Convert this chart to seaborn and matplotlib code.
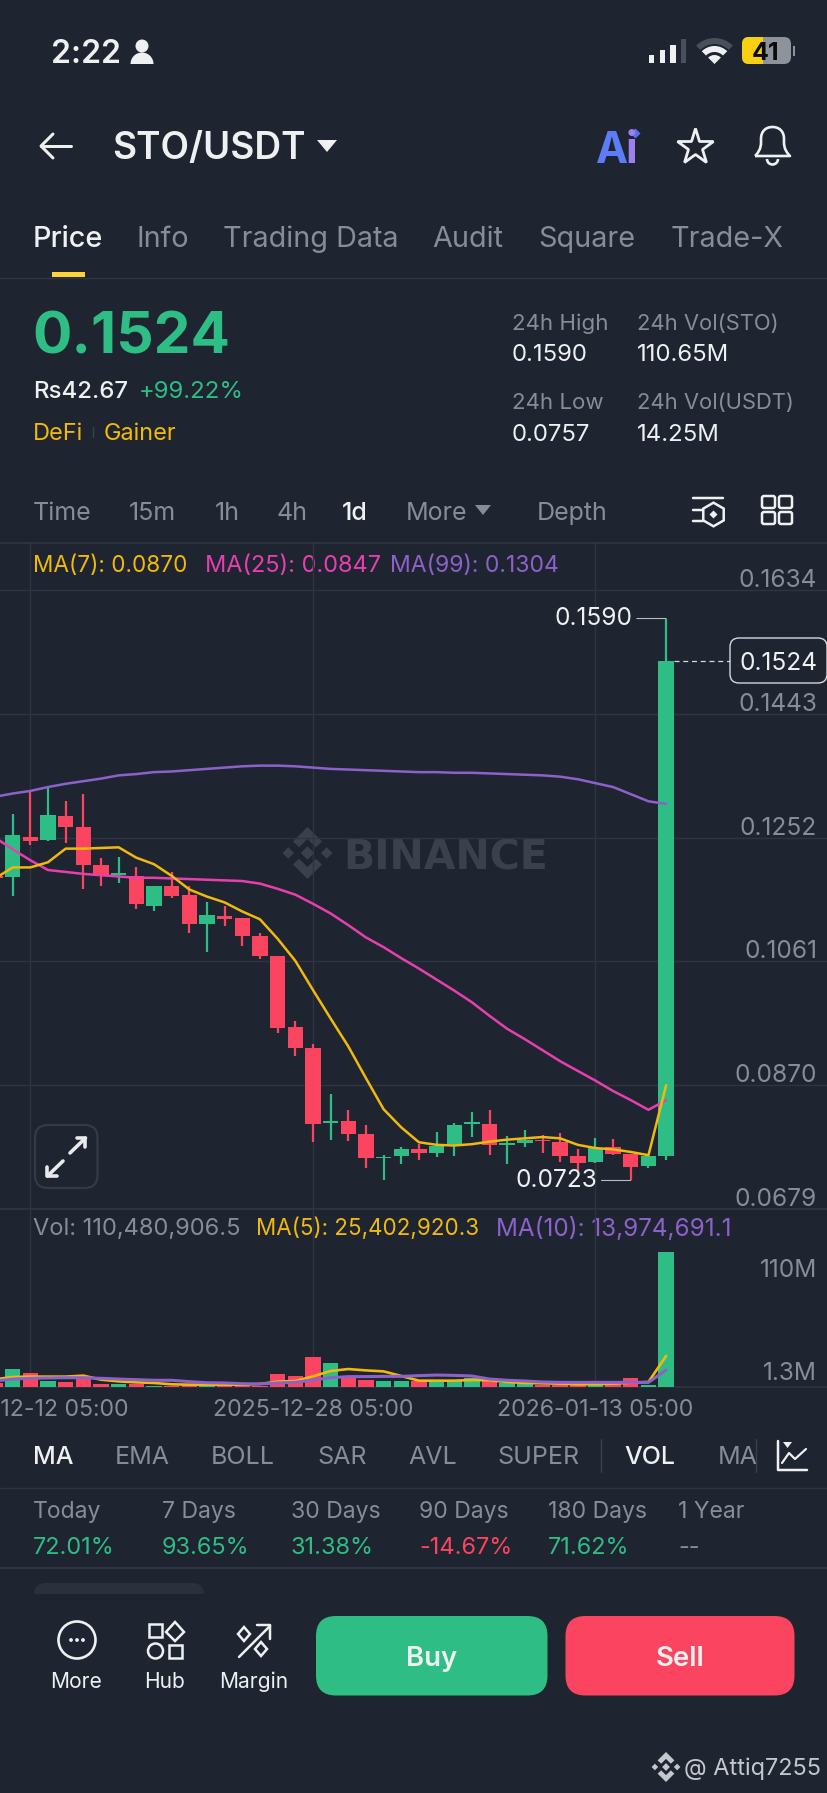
"""
plot.py
STO/USDT daily candles with moving averages and volume, drawn as the phone screen it came from.
"""

import matplotlib
matplotlib.use("Agg")
import matplotlib.pyplot as plt
import seaborn as sns
import numpy as np
import pandas as pd
from matplotlib.patches import Circle, FancyBboxPatch, Polygon, PathPatch, Rectangle, Wedge, Arc
from matplotlib.path import Path
from matplotlib.transforms import ScaledTranslation

BG = "#1E2530"
GRID = "#2E3440"
WHITE = "#EEF0F2"
GRAY = "#858D9B"
GREEN = "#2EBD85"
RED = "#FB4560"
YELLOW = "#F0B90B"
PINK = "#E83FB0"
PURPLE = "#8C62CA"
W, H = 828, 1793

# daily candles, the first one is cut by the left edge of the screen
opens = [.1193, .1191, .1253, .1248, .1286, .1268, .1210, .1194, .1193, .1146, .1178, .1163, .1118,
         .1131, .1128, .1100, .1069, .0960, .0927, .0811, .0815, .0794, .0757, .0760, .0772, .0765,
         .0779, .0810, .0810, .0778, .0781, .0786, .0783, .0761, .0751, .0774, .0764, .0745, .0761]
highs = [.1193, .1288, .1323, .1328, .1309, .1320, .1220, .1222, .1207, .1178, .1199, .1178, .1152,
         .1147, .1128, .1105, .1070, .0969, .0933, .0857, .0832, .0808, .0762, .0774, .0780, .0798,
         .0811, .0828, .0831, .0792, .0801, .0793, .0797, .0771, .0788, .0787, .0764, .0760, .1590]
lows = [.1190, .1162, .1241, .1247, .1244, .1173, .1178, .1182, .1142, .1139, .1159, .1105, .1076,
        .1116, .1084, .1064, .0951, .0915, .0783, .0785, .0784, .0742, .0724, .0748, .0755, .0759,
        .0761, .0790, .0763, .0748, .0775, .0766, .0751, .0737, .0750, .0762, .0723, .0742, .0755]
closes = [.1190, .1256, .1247, .1287, .1269, .1209, .1193, .1197, .1150, .1178, .1162, .1119, .1132,
          .1127, .1100, .1069, .0958, .0927, .0810, .0815, .0794, .0757, .0759, .0771, .0765, .0776,
          .0809, .0813, .0778, .0781, .0785, .0784, .0761, .0750, .0773, .0764, .0744, .0760, .1524]

ma7 = [.1189, .1206, .1206, .1214, .1235, .1235, .1236, .1237, .1221, .1211, .1193, .1172, .1161,
       .1152, .1138, .1126, .1096, .1062, .1017, .0973, .0930, .0881, .0833, .0805, .0782, .0778,
       .0777, .0779, .0783, .0786, .0788, .0790, .0788, .0778, .0773, .0771, .0767, .0762, .0870]
ma25 = [.1252, .1234, .1217, .1202, .1199, .1196, .1194, .1192, .1190, .1190, .1189, .1188, .1187,
        .1186, .1185, .1181, .1173, .1164, .1150, .1135, .1117, .1098, .1083, .1066, .1050, .1033,
        .1016, .0998, .0977, .0957, .0941, .0924, .0907, .0892, .0877, .0861, .0847, .0832, .0847]
ma99 = [.1315, .1320, .1324, .1330, .1335, .1339, .1343, .1348, .1350, .1353, .1354, .1356, .1358,
        .1360, .1362, .1363, .1363, .1362, .1360, .1358, .1357, .1356, .1355, .1354, .1353, .1353,
        .1352, .1352, .1351, .1350, .1349, .1348, .1346, .1342, .1336, .1330, .1319, .1308, .1304]

# volume in millions
volumes = [3.3, 14.5, 11.5, 5.2, 4.4, 7.4, 2.2, 2.2, 2.7, 0.5, 0.8, 1.9, 1.6, 0.5, 1.6, 0.5, 10.4,
           8.7, 24.6, 19.9, 7.6, 5.7, 4.9, 4.6, 4.9, 4.6, 4.6, 7.1, 5.2, 3.0, 3.5, 1.9, 1.9, 2.2,
           1.6, 2.5, 7.1, 1.9, 110.48]
vol_ma5 = [6.3, 8.2, 8.5, 8.5, 8.5, 9.3, 6.0, 4.6, 3.8, 3.3, 2.2, 1.9, 1.9, 1.9, 1.9, 2.5, 4.4, 4.9,
           8.7, 13.1, 14.7, 13.6, 12.8, 9.0, 5.2, 5.2, 5.2, 5.7, 5.5, 4.1, 3.3, 3.0, 2.7, 2.2, 2.2,
           2.7, 3.5, 4.1, 25.40]
vol_ma10 = [4.9, 6.5, 7.1, 7.4, 7.6, 7.6, 7.1, 6.5, 6.0, 5.5, 5.5, 4.4, 3.5, 3.3, 2.7, 2.5, 3.3, 3.8,
            5.7, 7.6, 8.5, 8.5, 8.7, 8.7, 9.3, 9.8, 9.5, 9.0, 6.5, 5.5, 4.9, 4.1, 3.8, 3.8, 3.8, 3.8,
            3.8, 3.8, 13.97]

price_ticks = [0.1634, 0.1443, 0.1252, 0.1061, 0.0870, 0.0679]
vol_ticks = [1.3, 110]
vol_tick_labels = ["1.3M", "110M"]
date_positions = [2, 18, 34]
date_labels = ["2025-12-12 05:00", "2025-12-28 05:00", "2026-01-13 05:00"]

tabs = ["Price", "Info", "Trading Data", "Audit", "Square", "Trade-X"]
tab_x = [33, 137, 223, 432, 538.5, 671]
frames = ["Time", "15m", "1h", "4h", "1d", "More", "Depth"]
frame_x = [33, 129, 215, 277, 342, 406, 537]
indicators = ["MA", "EMA", "BOLL", "SAR", "AVL", "SUPER", "VOL", "MA"]
indicator_x = [33, 115, 211, 317, 408, 497, 624, 718]
periods = ["Today", "7 Days", "30 Days", "90 Days", "180 Days", "1 Year"]
period_values = ["72.01%", "93.65%", "31.38%", "-14.67%", "71.62%", "--"]
period_x = [33, 162, 291, 419, 548, 678]

sns.set_theme(style="dark", rc={"figure.facecolor": BG, "axes.facecolor": "none", "savefig.facecolor": BG})
plt.rcParams["font.family"] = ["Inter", "DejaVu Sans"]

fig = plt.figure(figsize=(W / 100, H / 100), dpi=100)

# screen furniture goes in pixel coordinates on one full-size axes under the chart
ui = fig.add_axes([0, 0, 1, 1], zorder=0)
ui.set_xlim(0, W)
ui.set_ylim(H, 0)
ui.axis("off")


def label(x, cy, s, px, color=WHITE, weight="normal", ha="left", ax=ui, **kw):
    # cy is the middle of the capitals, px the font size in pixels
    return ax.text(x, cy + 0.36 * px, s, fontsize=px * 0.72, color=color, fontweight=weight,
                   ha=ha, va="baseline", **kw)


def stroke(xs, ys, lw=2.5, color=WHITE):
    ui.plot(xs, ys, color=color, lw=lw * 0.72, solid_capstyle="round", solid_joinstyle="round")


def round_box(x0, y0, x1, y1, r, face="none", edge="none", lw=0.0):
    box = FancyBboxPatch((x0, y0), x1 - x0, y1 - y0, boxstyle=f"round,pad=0,rounding_size={r}",
                         fc=face, ec=edge, lw=lw * 0.72)
    ui.add_patch(box)
    return box


def binance_logo(cx, cy, s, color):
    shapes = [
        [(0, -.26), (.26, 0), (0, .26), (-.26, 0)],
        [(-.74, -.22), (-.52, 0), (-.74, .22), (-.96, 0)],
        [(.74, -.22), (.96, 0), (.74, .22), (.52, 0)],
        [(0, -1), (.56, -.44), (.32, -.22), (0, -.54), (-.32, -.22), (-.56, -.44)],
        [(0, 1), (.56, .44), (.32, .22), (0, .54), (-.32, .22), (-.56, .44)],
    ]
    for pts in shapes:
        ui.add_patch(Polygon([(cx + a * s, cy + b * s) for a, b in pts], fc=color, ec="none"))


# status bar
label(51, 51, "2:22", 32, weight="semibold")
ui.add_patch(Circle((142, 46), 6.5, fc=WHITE, ec="none"))
ui.add_patch(Wedge((142, 64), 11.5, 180, 360, fc=WHITE, ec="none"))
for bx, top, col in zip([649, 660, 670.5, 681], [55, 50, 45, 39], [WHITE, WHITE, WHITE, "#4A505B"]):
    ui.add_patch(Rectangle((bx, top), 5.5, 63 - top, fc=col, ec="none"))
ui.add_patch(Wedge((714.5, 64), 26, 225, 315, width=6, fc="#4A505B", ec="none"))
ui.add_patch(Wedge((714.5, 64), 18, 225, 315, width=6, fc=WHITE, ec="none"))
ui.add_patch(Wedge((714.5, 64), 9, 225, 315, fc=WHITE, ec="none"))
round_box(742, 37, 791, 64, 7, face="#8E929A")
charged = round_box(742, 37, 791, 64, 7, face="#F8D012")
charged.set_clip_path(Rectangle((742, 37), 21, 27, transform=ui.transData))
ui.add_patch(Rectangle((793, 46), 2, 10, fc="#8E929A", ec="none"))
label(766, 51, "41", 25, color="#0A0A0A", weight="bold", ha="center")

# header row
stroke([71, 41], [146, 146], 3)
stroke([53, 41, 53], [134, 146, 158], 3)
label(112.5, 146, "STO/USDT", 37, weight="semibold")
ui.add_patch(Polygon([(317, 140), (337, 140), (327, 152)], fc=WHITE, ec="none"))
label(596, 148, "A", 43, color="#5C7DF7", weight="bold")
label(626, 148, "i", 43, color="#9C80EE", weight="bold")
ui.plot([635], [133], marker="D", ms=5, color="#5C6CF0", mec="none")
ui.plot([695.5], [147], marker="*", ms=27, mfc="none", mec=WHITE, mew=2)
bell = Path([(755, 156), (762, 149), (761, 143), (761, 139), (761, 131), (766, 127), (772.5, 127),
             (779, 127), (784, 131), (784, 139), (784, 143), (783, 149), (790, 156), (755, 156)],
            [Path.MOVETO] + [Path.CURVE4] * 12 + [Path.LINETO])
ui.add_patch(PathPatch(bell, fc="none", ec=WHITE, lw=1.9, joinstyle="round"))
ui.add_patch(Arc((772.5, 159), 11, 11, theta1=0, theta2=180, ec=WHITE, lw=1.9))

# tab row
for i, (name, x) in enumerate(zip(tabs, tab_x)):
    label(x, 237, name, 28.8, color=WHITE if i == 0 else GRAY, weight="medium" if i == 0 else "normal")
ui.add_patch(Rectangle((52, 272), 33, 5, fc="#FCD535", ec="none"))
ui.plot([0, W], [277.5, 277.5], color=GRID, lw=1)

# price summary
label(32, 332, "0.1524", 58.5, color=GREEN, weight="bold")
label(33, 389, "Rs42.67", 24, weight="medium")
label(139, 389, "+99.22%", 24, color=GREEN)
label(33, 432, "DeFi", 23.5, color=YELLOW)
ui.plot([93.5, 93.5], [427, 437], color="#3A414E", lw=1)
label(104, 432, "Gainer", 23.5, color=YELLOW)
label(512, 322, "24h High", 22.3, color=GRAY)
label(512, 352, "0.1590", 24)
label(637, 322, "24h Vol(STO)", 22, color=GRAY)
label(637, 352, "110.65M", 24)
label(512, 401, "24h Low", 22.3, color=GRAY)
label(512, 432, "0.0757", 24)
label(637, 401, "24h Vol(USDT)", 22, color=GRAY)
label(637, 432, "14.25M", 24)

# interval row
for name, x in zip(frames, frame_x):
    label(x, 511, name, 25, color=WHITE if name == "1d" else GRAY, weight="medium" if name == "1d" else "normal")
ui.add_patch(Polygon([(475, 505), (491, 505), (483, 515)], fc=GRAY, ec="none"))
stroke([693, 723], [498, 498], 2.5)
stroke([693, 703], [510, 510], 2.5)
stroke([693, 703], [521, 521], 2.5)
ui.plot([713], [514], marker="h", ms=17, mfc="none", mec=WHITE, mew=1.8)
ui.plot([713], [514], marker="D", ms=4, color=WHITE, mec="none")
for gx in [762, 779]:
    for gy in [496, 512]:
        round_box(gx, gy, gx + 13, gy + 12, 2, edge=WHITE, lw=2.5)

# moving average captions
label(33, 564, "MA(7): 0.0870", 22.6, color=YELLOW)
label(205, 564, "MA(25): 0.0847", 23.5, color=PINK)
label(390, 564, "MA(99): 0.1304", 23, color=PURPLE)
label(33, 1227, "Vol: 110,480,906.5", 23.6, color=GRAY)
label(256.5, 1227, "MA(5): 25,402,920.3", 22.4, color=YELLOW)
label(496.5, 1227, "MA(10): 13,974,691.1", 24.2, color=PURPLE)

# watermark and expand button sit under the candles
binance_logo(307.5, 853, 26, "#3A414D")
ui.text(343, 869, "BINANCE", fontsize=41 * 0.72, color="#3A414D", fontweight="bold", family="DejaVu Sans", va="baseline")
round_box(35, 1125, 97.5, 1188, 13, edge="#343A46", lw=2.2)
stroke([70, 85.5], [1153, 1138], 3.6, "#E8EAED")
stroke([77, 85.5, 85.5], [1138, 1138, 1147], 3.6, "#E8EAED")
stroke([63, 47.5], [1161, 1176], 3.6, "#E8EAED")
stroke([47.5, 47.5, 57], [1167, 1176, 1176], 3.6, "#E8EAED")

# current price tag
ui.add_patch(FancyBboxPatch((730, 638), 97, 45, boxstyle="round,pad=0,rounding_size=9", fc=BG, ec="#D5D8DC", lw=1))
label(778.5, 661, "0.1524", 24.5, ha="center")

# indicator row and period table
for i, (name, x) in enumerate(zip(indicators, indicator_x)):
    active = i in (0, 6)
    label(x, 1455, name, 25, color=WHITE if active else GRAY, weight="medium" if active else "normal")
ui.plot([601, 601], [1439, 1472], color="#3A414E", lw=1)
ui.plot([756, 756], [1439, 1472], color="#3A414E", lw=1)
stroke([778, 778, 807], [1441, 1470, 1470], 2.5)
stroke([782, 789, 795, 806], [1463, 1453, 1459, 1449], 2.2)
ui.add_patch(Polygon([(783, 1442), (792, 1442), (787.5, 1448)], fc=WHITE, ec="none"))
ui.plot([0, W], [1488, 1488], color=GRID, lw=1)
for name, val, x in zip(periods, period_values, period_x):
    val_color = GRAY if val == "--" else (RED if val.startswith("-") else GREEN)
    label(x, 1510, name, 23, color=GRAY)
    label(x, 1546, val, 23.5, color=val_color)
ui.plot([0, W], [1568, 1568], color=GRID, lw=1.5)
round_box(34, 1583, 204, 1610, 12, face="#2A303C")
ui.add_patch(Rectangle((0, 1594), W, 199, fc=BG, ec="none"))

# bottom actions
ui.add_patch(Circle((77, 1640), 18.5, fc="none", ec=WHITE, lw=1.9))
for dx in [-6, 0, 6]:
    ui.add_patch(Circle((77 + dx, 1640), 1.9, fc=WHITE, ec="none"))
label(76.5, 1680, "More", 21, ha="center")
ui.add_patch(Rectangle((149, 1624), 13, 13, fc="none", ec=WHITE, lw=1.8))
ui.add_patch(Polygon([(175, 1622), (184, 1632), (175, 1641), (166, 1632)], fc="none", ec=WHITE, lw=1.8))
ui.add_patch(Circle((155.5, 1651), 7.5, fc="none", ec=WHITE, lw=1.8))
ui.add_patch(Rectangle((169, 1645), 13, 13, fc="none", ec=WHITE, lw=1.8))
label(164.7, 1680, "Hub", 21, ha="center")
stroke([239, 270], [1657, 1626], 2.5)
stroke([257, 270, 270], [1625, 1625, 1639], 2.5)
ui.add_patch(Polygon([(244, 1627), (250, 1634), (244, 1641), (238, 1634)], fc="none", ec=WHITE, lw=1.8))
ui.add_patch(Polygon([(261, 1642), (267, 1649), (261, 1656), (255, 1649)], fc="none", ec=WHITE, lw=1.8))
label(253.4, 1680, "Margin", 21, ha="center")
round_box(316, 1616, 547.5, 1695.5, 20, face=GREEN)
label(431.7, 1656, "Buy", 27.5, weight="semibold", ha="center")
round_box(565.5, 1616, 794.5, 1695.5, 20, face=RED)
label(680, 1656, "Sell", 27.5, weight="semibold", ha="center")
binance_logo(666, 1767, 15, "#C4C8CE")
label(684, 1767, "@ Attiq7255", 23.5, color="#C4C8CE")

# chart panels: candle i sits at 12.7 + 17.66 * (i - 1) pixels
x_left = 1 - 12.7 / 17.66
x_right = 1 + (W - 12.7) / 17.66
price_top = 0.0679 + (1209 - 543) * 0.00015428
ax_price = fig.add_axes([0, 1 - 1209 / H, 1, (1209 - 543) / H], zorder=1)
ax_vol = fig.add_axes([0, 1 - 1387 / H, 1, (1387 - 1209) / H], zorder=1)

candles = pd.DataFrame({"idx": np.arange(len(opens)), "open": opens, "high": highs, "low": lows, "close": closes,
                        "volume": volumes})
candles["side"] = np.where(candles["close"] >= candles["open"], "up", "down")
palette = {"up": GREEN, "down": RED}

colors = candles["side"].map(palette)
ax_price.vlines(candles["idx"], candles["low"], candles["high"], colors=colors, lw=1.6, zorder=3)
ax_price.bar(candles["idx"], (candles["close"] - candles["open"]).abs(),
             bottom=candles[["open", "close"]].min(axis=1), width=0.87, color=colors, lw=0, zorder=3)
for values, color in [(ma99, PURPLE), (ma25, PINK), (ma7, YELLOW)]:
    sns.lineplot(x=candles["idx"], y=values, color=color, lw=1.8, ax=ax_price, zorder=4)

ax_price.set_xlim(x_left, x_right)
ax_price.set_ylim(0.0679, price_top)
ax_price.set_xticks(date_positions)
ax_price.set_yticks(price_ticks)
ax_price.set_yticklabels([f"{v:.4f}" for v in price_ticks])
ax_price.yaxis.tick_right()
ax_price.tick_params(axis="x", labelbottom=False, length=0)
ax_price.tick_params(axis="y", length=0, pad=-7.8, labelsize=24.5 * 0.72, labelcolor=GRAY)
down_2px = ScaledTranslation(0, -2 / 100, fig.dpi_scale_trans)
for tick in ax_price.get_yticklabels():
    tick.set_ha("right")
    tick.set_va("bottom")
    tick.set_transform(tick.get_transform() + down_2px)
ax_price.set_xlabel("")
ax_price.set_ylabel("")
ax_price.grid(True, color=GRID, lw=1)
ax_price.set_axisbelow(True)
for side in ["left", "right"]:
    ax_price.spines[side].set_visible(False)
for side in ["top", "bottom"]:
    ax_price.spines[side].set_color(GRID)

# high, low and last price markers on the price axes
for pos, val in [(38, highs[38]), (36, lows[36])]:
    ax_price.annotate(f"{val:.4f}", xy=(pos, val), xytext=(-34, 0), textcoords="offset pixels", ha="right",
                      va="center", fontsize=24.5 * 0.72, color=WHITE,
                      arrowprops=dict(arrowstyle="-", color="#B8BCC2", lw=0.8, shrinkA=1, shrinkB=0))
ax_price.hlines(closes[38], 38.45, 1 + (730 - 12.7) / 17.66, colors="#D5D8DC", lw=0.9, linestyles=(0, (4, 3)))

# volume panel
sns.barplot(data=candles, x="idx", y="volume", hue="side", palette=palette, dodge=False, native_scale=True,
            width=0.87, saturation=1, legend=False, linewidth=0, ax=ax_vol, zorder=3)
sns.lineplot(x=candles["idx"], y=vol_ma5, color=YELLOW, lw=1.9, ax=ax_vol, zorder=4)
sns.lineplot(x=candles["idx"], y=vol_ma10, color=PURPLE, lw=2.2, ax=ax_vol, zorder=5)
ax_vol.set_xlim(x_left, x_right)
ax_vol.set_ylim(0, 178 * 0.8184)
ax_vol.set_xticks(date_positions)
ax_vol.set_xticklabels(date_labels)
ax_vol.set_yticks(vol_ticks)
ax_vol.set_yticklabels(vol_tick_labels)
ax_vol.yaxis.tick_right()
ax_vol.tick_params(axis="x", length=0, pad=8.6, labelsize=23.1 * 0.72, labelcolor=GRAY)
ax_vol.tick_params(axis="y", length=0, pad=-7.8, labelsize=24.5 * 0.72, labelcolor=GRAY)
nudge = ScaledTranslation(0, -6 / 100, fig.dpi_scale_trans)
for tick, va in zip(ax_vol.get_yticklabels(), ["bottom", "top"]):
    tick.set_ha("right")
    tick.set_va(va)
ax_vol.get_yticklabels()[1].set_transform(ax_vol.get_yticklabels()[1].get_transform() + nudge)
ax_vol.set_xlabel("")
ax_vol.set_ylabel("")
ax_vol.grid(True, axis="x", color=GRID, lw=1)
ax_vol.set_axisbelow(True)
for side in ["left", "right", "top"]:
    ax_vol.spines[side].set_visible(False)
ax_vol.spines["bottom"].set_color(GRID)

fig.savefig("out.png", dpi=100)
plt.close(fig)
